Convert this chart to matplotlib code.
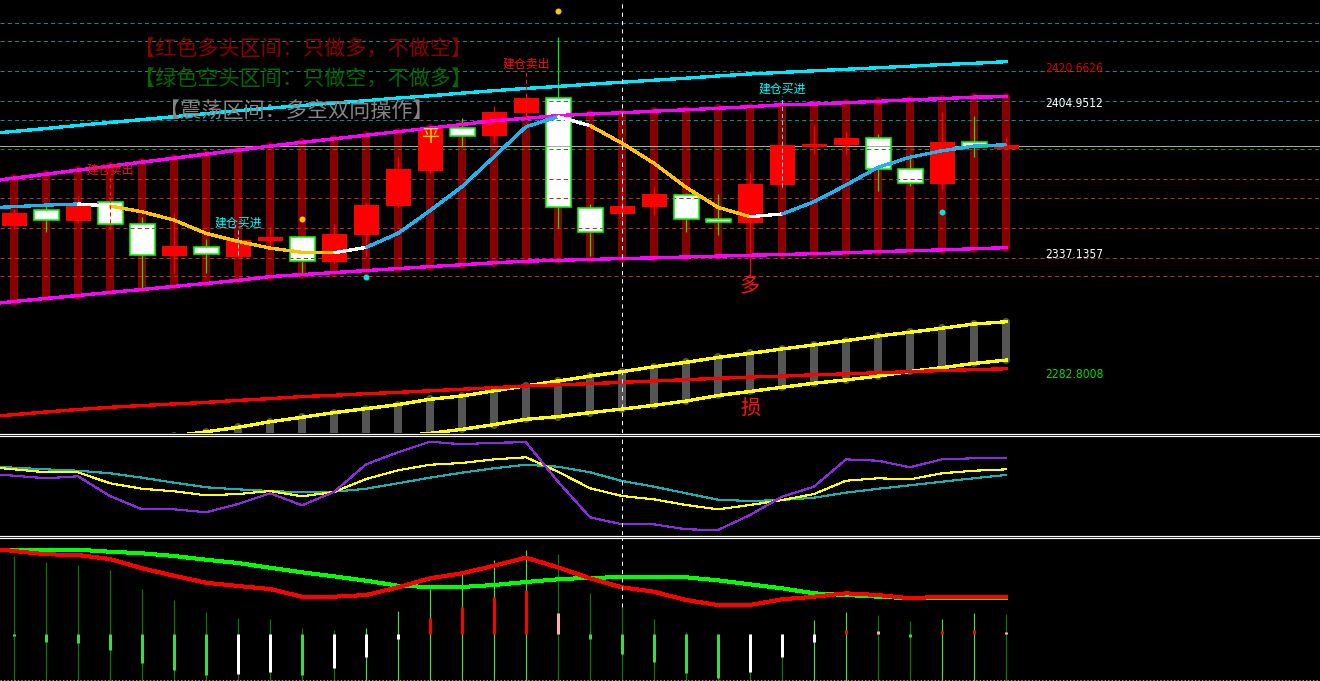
import numpy as np
import matplotlib
matplotlib.use("Agg")
import matplotlib.pyplot as plt
from matplotlib.patches import Rectangle
from matplotlib.lines import Line2D
from matplotlib import font_manager

plt.rcParams["lines.scale_dashes"] = False
faces = font_manager.fontManager.ttflist
installed = {f.name for f in faces}
CJK = "Noto Sans CJK SC"
if "Liberation Sans Narrow" in installed:
    NUM_FONT, NUM_STRETCH = "Liberation Sans Narrow", "normal"
else:
    NUM_FONT, NUM_STRETCH = "DejaVu Sans", "condensed"
plt.rcParams["font.family"] = [CJK, "DejaVu Sans"]

# ---------------- price panel data ----------------
opens = [2349.8, 2356.8, 2352.1, 2360.4, 2350.5, 2336.4, 2340.1, 2335.9, 2343.1, 2344.6, 2333.7,
         2345.7, 2358.8, 2374.4, 2393.7, 2390.3, 2400.5, 2407.1, 2357.7, 2355.2, 2358.4, 2363.8,
         2352.7, 2351.2, 2368.1, 2385.2, 2386.1, 2389.1, 2375.2, 2368.7, 2387.3, 2384.2]
highs = [2357.3, 2358.8, 2363.2, 2360.9, 2353.9, 2355.4, 2343.9, 2345.2, 2349.4, 2345.2, 2350.6,
         2360.2, 2380.6, 2394.3, 2398.1, 2403.6, 2408.1, 2434.5, 2359.6, 2375.9, 2367.7, 2364.7,
         2364.1, 2373.7, 2387.0, 2395.1, 2392.4, 2391.0, 2381.9, 2400.9, 2399.1, 2389.7]
lows = [2348.4, 2347.2, 2351.6, 2350.2, 2321.7, 2328.5, 2328.7, 2335.3, 2341.2, 2328.5, 2333.0,
        2335.9, 2358.4, 2373.4, 2385.3, 2387.1, 2398.7, 2348.7, 2336.2, 2349.9, 2354.7, 2347.2,
        2345.7, 2326.9, 2366.8, 2382.1, 2382.1, 2365.6, 2367.8, 2365.9, 2380.8, 2384.2]
closes = [2355.6, 2352.3, 2360.2, 2350.5, 2336.6, 2340.7, 2337.0, 2343.3, 2344.8, 2333.9, 2346.1,
          2359.1, 2375.3, 2393.9, 2390.3, 2400.9, 2407.2, 2358.1, 2346.9, 2358.7, 2364.1, 2352.7,
          2351.4, 2368.6, 2386.1, 2386.5, 2389.2, 2375.2, 2368.9, 2387.4, 2385.1, 2386.0]

channel_upper = [2371.2, 2373.0, 2374.8, 2376.6, 2378.4, 2380.2, 2382.0, 2383.8, 2385.6, 2387.3,
                 2388.9, 2390.5, 2392.1, 2393.7, 2395.3, 2397.0, 2398.1, 2399.3, 2400.0, 2400.6,
                 2401.3, 2401.9, 2402.6, 2403.3, 2404.2, 2404.5, 2405.1, 2405.7, 2406.4, 2406.9,
                 2407.6, 2407.8]
channel_lower = [2315.8, 2317.2, 2318.5, 2319.9, 2321.2, 2322.6, 2323.9, 2325.3, 2327.0, 2327.9,
                 2328.8, 2329.7, 2330.6, 2331.5, 2332.3, 2333.2, 2333.9, 2334.3, 2334.7, 2335.1,
                 2335.4, 2335.8, 2336.2, 2336.6, 2336.9, 2337.3, 2337.7, 2338.2, 2338.6, 2339.0,
                 2339.5, 2340.0]
resistance = [2392.2, 2393.5, 2394.9, 2396.2, 2397.5, 2398.8, 2400.2, 2401.5, 2402.7, 2403.8,
              2405.0, 2406.0, 2407.2, 2408.2, 2409.4, 2410.5, 2411.5, 2412.4, 2413.4, 2414.3,
              2415.2, 2416.1, 2417.1, 2418.0, 2418.7, 2419.4, 2420.1, 2420.8, 2421.5, 2422.2,
              2422.8, 2423.5]
trend_ma = [2358.4, 2359.1, 2359.6, 2358.7, 2356.1, 2352.4, 2346.4, 2342.8, 2339.8, 2337.9, 2337.7,
            2340.1, 2346.4, 2356.6, 2367.4, 2380.8, 2394.3, 2398.8, 2394.8, 2386.9, 2377.9, 2367.1,
            2358.1, 2353.9, 2355.1, 2360.6, 2368.1, 2376.1, 2380.6, 2383.5, 2385.6, 2386.2]
stop_line = [2265.0, 2266.2, 2267.3, 2268.3, 2269.1, 2269.8, 2270.5, 2271.4, 2272.2, 2273.1, 2273.7,
             2274.4, 2275.0, 2275.7, 2276.4, 2277.1, 2277.9, 2278.4, 2278.9, 2279.5, 2280.1, 2280.7,
             2281.3, 2281.9, 2282.3, 2282.9, 2283.3, 2283.8, 2284.3, 2284.8, 2285.2, 2285.6]
nan = float("nan")
band_upper = [nan, nan, nan, nan, nan, 2255.4, 2257.3, 2259.3, 2261.8, 2263.8, 2265.9, 2267.7,
              2269.5, 2271.9, 2273.4, 2275.7, 2277.9, 2280.1, 2282.3, 2284.3, 2286.5, 2288.5,
              2290.7, 2292.5, 2294.5, 2296.3, 2298.2, 2300.3, 2302.0, 2303.8, 2305.7, 2306.7]
band_lower = [nan, nan, nan, nan, nan, 2242.4, 2244.2, 2246.2, 2248.2, 2250.2, 2252.3, 2254.1,
              2255.4, 2256.6, 2258.4, 2260.5, 2262.9, 2264.1, 2265.9, 2267.5, 2269.2, 2271.1,
              2273.6, 2275.4, 2277.3, 2279.1, 2280.6, 2282.3, 2284.4, 2286.1, 2288.0, 2289.5]

teal_levels = [2440.7, 2432.7, 2419.3, 2405.9, 2397.3]
gray_level = 2385.8
green_level = 2384.3
red_levels = [2370.8, 2362.3, 2348.8, 2335.3, 2327.1]

price_labels = [("2420.6626", 2420.6626, "#E00000"), ("2404.9512", 2404.9512, "#FFFFFF"),
                ("2337.1357", 2337.1357, "#FFFFFF"), ("2282.8008", 2282.8008, "#00E000")]

sell_signals = [(3, 2374.9, 2372.2, 2347.9), (16, 2422.5, 2419.8, 2398.2)]
buy_signals = [(7, 2351.1, 2348.4, 2336.7), (24, 2411.2, 2408.1, 2367.2)]
gold_dots = [(17, 2446.3), (9, 2353.0)]
cyan_dots = [(11, 2326.9), (29, 2356.0)]
flat_mark = (13, 2389.7)
long_mark = (23, 2322.3)
stop_mark = (23, 2267.5)
cursor_bar = 19

# ---------------- oscillator panel data ----------------
osc_fast = [60.5, 57.9, 59.9, 39.8, 26.2, 26.2, 23.2, 31.6, 42.6, 30.3, 43.9, 72.1, 84.4, 95.2,
            92.6, 94.2, 94.6, 54.4, 18.1, 10.9, 10.9, 5.8, 5.1, 20.4, 39.1, 49.3, 77.2, 75.8, 69.1,
            77.2, 78.3, 78.3]
osc_mid = [67.0, 64.0, 64.0, 52.8, 47.2, 44.6, 40.5, 41.8, 44.9, 39.5, 43.9, 57.1, 66.0, 71.7,
           73.5, 77.2, 79.3, 64.6, 47.7, 39.8, 36.4, 30.6, 26.2, 30.6, 35.7, 41.8, 55.4, 57.9, 56.8,
           63.0, 65.6, 67.0]
osc_slow = [68.7, 67.0, 65.6, 63.0, 58.5, 53.4, 48.7, 46.6, 44.9, 43.6, 44.2, 47.2, 52.8, 58.5,
            63.6, 68.1, 71.7, 69.7, 64.0, 55.1, 49.3, 42.6, 36.0, 34.7, 35.7, 38.1, 43.2, 47.2, 50.7,
            54.4, 57.9, 61.2]

# ---------------- MACD-style panel data ----------------
signal_green = [8.43, 8.43, 8.43, 8.23, 8.07, 7.80, 7.43, 7.10, 6.63, 6.17, 5.77, 5.33, 4.83, 4.70,
                4.70, 4.90, 5.20, 5.47, 5.63, 5.67, 5.73, 5.67, 5.37, 4.97, 4.57, 4.07, 3.90, 3.73,
                3.57, 3.57, 3.57, 3.57]
signal_red = [8.30, 7.97, 7.90, 7.50, 6.57, 5.83, 5.13, 4.80, 4.50, 3.73, 3.73, 3.90, 4.67, 5.57,
              6.07, 6.83, 7.63, 6.67, 5.57, 4.67, 4.23, 3.40, 2.90, 2.90, 3.47, 3.73, 4.07, 3.90,
              3.57, 3.73, 3.73, 3.73]
volume_line = [7.80, 7.23, 6.90, 6.40, 4.50, 3.40, 2.17, 1.57, 1.50, 0.57, 0.40, 0.57, 2.30, 4.50,
               5.97, 7.40, 8.40, 7.97, 4.07, 2.73, 1.50, 0.17, 0.00, 0.00, 0.00, 1.40, 2.17, 1.90,
               1.30, 1.50, 2.07, 1.97]
histogram = [-0.17, -0.77, -0.87, -1.60, -2.87, -3.60, -4.10, -4.00, -3.77, -4.10, -3.43, -2.27,
             -0.50, 1.57, 2.73, 3.73, 4.40, 2.07, -0.53, -2.00, -2.77, -3.93, -4.43, -3.83, -2.27,
             -0.77, 0.40, 0.30, -0.27, 0.30, 0.40, 0.17]

# ---------------- layout ----------------
W, H = 1320, 681
PX = 0.72  # points per pixel at 100 dpi
LW = 2.3 * PX
n = len(opens)
idx = np.arange(n)
XMIN, XMAX = -14 / 32, (W - 14) / 32

fig = plt.figure(figsize=(W / 100, H / 100), dpi=100, facecolor="black")


def panel(top_px, bottom_px):
    ax = fig.add_axes([0, 1 - bottom_px / H, 1, (bottom_px - top_px) / H])
    ax.set_facecolor("black")
    ax.set_xlim(XMIN, XMAX)
    ax.set_axis_off()
    return ax


def extend(vals):
    """Carry a series back to the left edge of the plot."""
    v = np.asarray(vals, dtype=float)
    x = np.concatenate([[XMIN], idx])
    y = np.concatenate([[v[0] - (v[1] - v[0]) * (0 - XMIN)], v])
    return x, y


ax1 = panel(0, 433)
ax1.set_ylim(2256.75, 2451.21)
ax2 = panel(437, 535)
ax2.set_ylim(0, 100)
ax3 = panel(538, H)
ax3.set_ylim(-4.7, 9.6)

# panel separators
for ypx in (433.5, 436, 535.5, 537.5):
    fig.add_artist(Line2D([0, 1], [1 - ypx / H] * 2, color="white", lw=1.2 * PX,
                          transform=fig.transFigure))
fig.add_artist(Line2D([0, 1], [1 - 679.5 / H] * 2, color="#9A9A9A", lw=1 * PX,
                      dashes=(1, 1.5), transform=fig.transFigure))

# ---------------- price panel ----------------
for lv in teal_levels:
    ax1.axhline(lv, color="#0A8A8A", lw=PX, dashes=(3, 2.2), zorder=3)
ax1.axhline(gray_level, color="#A8A8A8", lw=PX, zorder=3)
ax1.axhline(green_level, color="#12901E", lw=PX, dashes=(3, 2.2), zorder=3)
for lv in red_levels:
    ax1.axhline(lv, color="#B03030", lw=PX, dashes=(3, 2.2), zorder=3)

# channel columns
cols = ax1.vlines(idx, channel_lower, channel_upper, color="#870000", lw=8 * PX, zorder=1)
cols.set_capstyle("round")
gcols = ax1.vlines(idx, band_lower, band_upper, color="#555555", lw=8 * PX, zorder=1)
gcols.set_capstyle("round")

for vals, col, z in ((channel_upper, "#FF00FF", 5), (channel_lower, "#FF00FF", 5),
                     (resistance, "#00E8FF", 5), (stop_line, "#FF0000", 6)):
    xs, ys = extend(vals)
    ax1.plot(xs, ys, color=col, lw=LW, antialiased=False, zorder=z)
ax1.plot(idx, band_upper, color="#FFFF00", lw=LW, antialiased=False, zorder=5)
ax1.plot(idx, band_lower, color="#FFFF00", lw=LW, antialiased=False, zorder=5)

# candles
half = 12.5 / 32
for i in range(n):
    o, h, l, c = opens[i], highs[i], lows[i], closes[i]
    top, bot = max(o, c), min(o, c)
    if c >= o:
        ax1.vlines(i, l, h, color="#FF0000", lw=1.2 * PX, zorder=4)
        ax1.add_patch(Rectangle((i - half, bot), 2 * half, top - bot, fc="#FF0000", ec="none",
                                zorder=4))
    else:
        ax1.vlines(i, top, h, color="#00EE00", lw=1.2 * PX, zorder=4)
        ax1.vlines(i, l, bot, color="#00EE00", lw=1.2 * PX, zorder=4)
        ax1.add_patch(Rectangle((i - half, bot), 2 * half, top - bot, fc="white", ec="none",
                                zorder=2))
        ax1.add_patch(Rectangle((i - half, bot), 2 * half, top - bot, fill=False, ec="#00FF00",
                                lw=1.6 * PX, zorder=4))

# trend line coloured by direction, white on the first bar after a turn
xs, ys = extend(trend_ma)
prev = None
for k in range(len(xs) - 1):
    d = 1 if ys[k + 1] >= ys[k] else -1
    if prev is not None and d != prev:
        col = "white"
    else:
        col = "#1EB4F0" if d > 0 else "#FFC400"
    prev = d
    ax1.plot(xs[k:k + 2], ys[k:k + 2], color=col, lw=LW, antialiased=False,
             solid_capstyle="butt", zorder=7)

# signals
for i, ty, y0, y1 in sell_signals:
    ax1.text(i, ty, "建仓卖出", color="#FF1010", fontsize=8.6, ha="center", va="center", zorder=9)
    ax1.vlines(i, y1, y0, color="#FF1010", lw=PX, linestyles=(0, (3, 2)), zorder=8)
for i, ty, y0, y1 in buy_signals:
    ax1.text(i, ty, "建仓买进", color="#00FFFF", fontsize=8.6, ha="center", va="center", zorder=9)
    ax1.vlines(i, y1, y0, color="#00FFFF", lw=PX, linestyles=(0, (3, 2)), zorder=8)
for i, v in gold_dots:
    ax1.plot(i, v, "o", color="#FFC800", ms=6 * PX, mec="none", zorder=9)
for i, v in cyan_dots:
    ax1.plot(i, v, "o", color="#00E5E5", ms=6 * PX, mec="none", zorder=9)
ax1.text(flat_mark[0], flat_mark[1], "平", color="#FFE000", fontsize=13, ha="center",
         va="center", zorder=9)
ax1.text(long_mark[0], long_mark[1], "多", color="#FF1010", fontsize=14.5, ha="center",
         va="center", zorder=9)
ax1.text(stop_mark[0], stop_mark[1], "损", color="#FF1010", fontsize=14.5, ha="center",
         va="center", zorder=9)

for txt, val, col in price_labels:
    ax1.text((1045 - 14) / 32, val, txt, color=col, fontsize=8.6, family=NUM_FONT,
             fontstretch=NUM_STRETCH, ha="left", va="center", zorder=9)

ax1.axvline(cursor_bar, color="white", lw=PX, dashes=(3, 3), zorder=10)

# legend-style headings
fig.text(134 / W, 1 - 49.5 / H, "【红色多头区间：只做多，不做空】", color="#8C0000", fontsize=15.2,
         va="center", ha="left")
fig.text(134 / W, 1 - 79.5 / H, "【绿色空头区间：只做空，不做多】", color="#006A00", fontsize=15.2,
         va="center", ha="left")
fig.text(159 / W, 1 - 111.5 / H, "【震荡区间：多空双向操作】", color="#858585", fontsize=15.2,
         va="center", ha="left")

# ---------------- oscillator panel ----------------
for vals, col in ((osc_slow, "#1AB0B0"), (osc_mid, "#FFFF00"), (osc_fast, "#8A2BE2")):
    xs, ys = extend(vals)
    ax2.plot(xs, ys, color=col, lw=1.1 * PX, antialiased=False)
ax2.axvline(cursor_bar, color="white", lw=PX, dashes=(3, 3))

# ---------------- MACD-style panel ----------------
prev_v = None
for i, v in enumerate(volume_line):
    col = "#4CD94C" if (prev_v is not None and v > prev_v) else "#0A780A"
    prev_v = v
    ax3.vlines(i, -4.7, v, color=col, lw=1.2 * PX, zorder=1)
prev_h = None
for i, v in enumerate(histogram):
    if v < 0:
        col = "#3CDC3C" if (prev_h is None or v < prev_h) else "white"
    else:
        col = "#FF0000" if (prev_h is None or v > prev_h) else "#FFB0B0"
    prev_h = v
    ax3.vlines(i, 0, v, color=col, lw=3 * PX, zorder=2)
xs, ys = extend(signal_green)
ax3.plot(xs, ys, color="#00FF00", lw=3 * PX, antialiased=False, zorder=3)
xs, ys = extend(signal_red)
ax3.plot(xs, ys, color="#FF0000", lw=3 * PX, antialiased=False, zorder=4)
ax3.vlines(cursor_bar, 2.7, 9.6, color="white", lw=PX, linestyles=(0, (3, 3)), zorder=5)

fig.savefig("out.png", dpi=100, facecolor="black")
